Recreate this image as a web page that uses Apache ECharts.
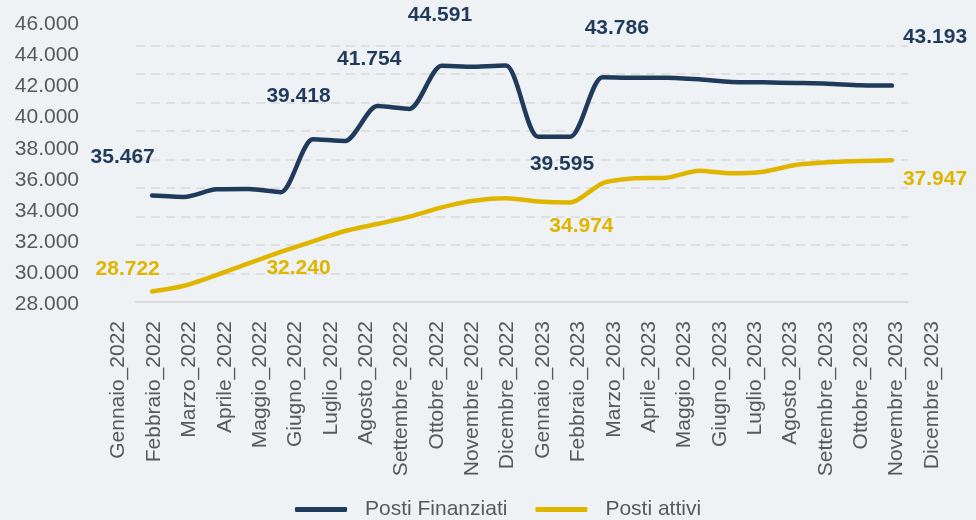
<!DOCTYPE html>
<html>
<head>
<meta charset="utf-8">
<script src="https://cdn.jsdelivr.net/npm/echarts@6/dist/echarts.min.js"></script>
<style>
html,body{margin:0;padding:0;background:#EEF2F5;}
#chart{width:976px;height:520px;}
</style>
</head>
<body>
<div id="chart"></div>
<script>
// ---- data ----
const months = ['Gennaio_2022','Febbraio_2022','Marzo_2022','Aprile_2022','Maggio_2022','Giugno_2022','Luglio_2022','Agosto_2022','Settembre_2022','Ottobre_2022','Novembre_2022','Dicembre_2022','Gennaio_2023','Febbraio_2023','Marzo_2023','Aprile_2023','Maggio_2023','Giugno_2023','Luglio_2023','Agosto_2023','Settembre_2023','Ottobre_2023','Novembre_2023','Dicembre_2023'];
const postiFinanziati = [35467, 35370, 35900, 35920, 35700, 39418, 39300, 41754, 41550, 44591, 44520, 44600, 39595, 39600, 43786, 43750, 43750, 43640, 43450, 43425, 43380, 43330, 43215, 43193];
const postiAttivi = [28722, 29125, 29877, 30700, 31495, 32240, 32970, 33460, 33977, 34635, 35100, 35270, 35050, 34974, 36325, 36675, 36720, 37210, 37030, 37140, 37610, 37800, 37890, 37947];
const labelIdxFinanziati = [0, 5, 7, 9, 12, 14, 23];
const labelIdxAttivi = [0, 5, 13, 23];
const yTicks = {min: 28000, max: 46000, step: 2000};

const NAVY = '#1F3A5A';
const GOLD = '#E0B500';
const GREY = '#595959';
const FONT = "'Liberation Sans', Arial, sans-serif";

function fmt(v){ return String(Math.round(v)).replace(/\B(?=(\d{3})+(?!\d))/g, '.'); }

// label offsets (layout only)
const offFin = {0:[4,-31], 5:[3,-31], 7:[3,-31], 9:[3,-31], 12:[19,40], 14:[3,-31], 23:[3,-31]};
const offAtt = {0:[9,-24], 5:[3,30], 13:[3,30], 23:[3,30]};

function labelData(values, idxs, offs, color){
  return idxs.map(i => ({
    value: [i, values[i]],
    label: {offset: offs[i], color: color}
  }));
}

const labelCommon = {
  show: true, position: 'inside', fontSize: 21, fontWeight: 'bold', fontFamily: FONT,
  opacity: 1, textBorderWidth: 0, textShadowBlur: 0,
  formatter: p => fmt(p.value[1])
};

const chart = echarts.init(document.getElementById('chart'), null, {renderer:'canvas'});
const option = {
  backgroundColor: '#EEF2F5',
  animation: false,
  textStyle: {fontFamily: FONT},
  grid: [
    {left: 136, right: 68, top: 45.7, bottom: 218.3},
    {left: 101, right: 26.3, top: 24.5, bottom: 216}
  ],
  legend: {
    data: ['Posti Finanziati', 'Posti attivi'],
    left: 290, top: 494,
    icon: 'roundRect',
    itemWidth: 52, itemHeight: 5,
    itemGap: 28,
    textStyle: {fontSize: 21, color: GREY, fontFamily: FONT, padding: [0,0,0,13]}
  },
  xAxis: [
    {gridIndex: 0, type: 'category', data: months, boundaryGap: true,
     axisLine: {show: true, lineStyle: {color: '#D9D9D9', width: 2}},
     axisTick: {show: false}, axisLabel: {show: false}, splitLine: {show: false}},
    {gridIndex: 1, type: 'category', data: months, boundaryGap: true,
     axisLine: {show: false}, axisTick: {show: false},
     axisLabel: {show: true, interval: 0, rotate: 90, margin: 17, fontSize: 21, color: GREY, fontFamily: FONT},
     splitLine: {show: false}}
  ],
  yAxis: [
    {gridIndex: 0, type: 'value', min: yTicks.min, max: yTicks.max, interval: yTicks.step,
     axisLine: {show: false}, axisTick: {show: false}, axisLabel: {show: false},
     splitLine: {show: true, lineStyle: {color: '#D9D9D9', width: 1.5, type: [9, 6]}}},
    {gridIndex: 1, type: 'value', min: yTicks.min, max: yTicks.max, interval: yTicks.step,
     axisLine: {show: false}, axisTick: {show: false}, splitLine: {show: false},
     axisLabel: {show: true, margin: 22, fontSize: 21, color: GREY, fontFamily: FONT, formatter: v => fmt(v)}}
  ],
  series: [
    {name: 'Posti Finanziati', type: 'line', xAxisIndex: 0, yAxisIndex: 0, data: postiFinanziati,
     smooth: 0.25, symbol: 'none', itemStyle: {color: NAVY},
     lineStyle: {color: NAVY, width: 4.5, cap: 'round', join: 'round'}, z: 3},
    {name: 'Posti attivi', type: 'line', xAxisIndex: 0, yAxisIndex: 0, data: postiAttivi,
     smooth: 0.25, symbol: 'none', itemStyle: {color: GOLD},
     lineStyle: {color: GOLD, width: 4.5, cap: 'round', join: 'round'}, z: 3},
    {name: 'lblFin', type: 'scatter', xAxisIndex: 1, yAxisIndex: 1, symbolSize: 1, silent: true,
     itemStyle: {color: 'rgba(0,0,0,0)', opacity: 1},
     label: labelCommon,
     data: labelData(postiFinanziati, labelIdxFinanziati, offFin, NAVY), z: 5},
    {name: 'lblAtt', type: 'scatter', xAxisIndex: 1, yAxisIndex: 1, symbolSize: 1, silent: true,
     itemStyle: {color: 'rgba(0,0,0,0)', opacity: 1},
     label: labelCommon,
     data: labelData(postiAttivi, labelIdxAttivi, offAtt, GOLD), z: 5}
  ]
};
chart.setOption(option);
</script>
</body>
</html>
